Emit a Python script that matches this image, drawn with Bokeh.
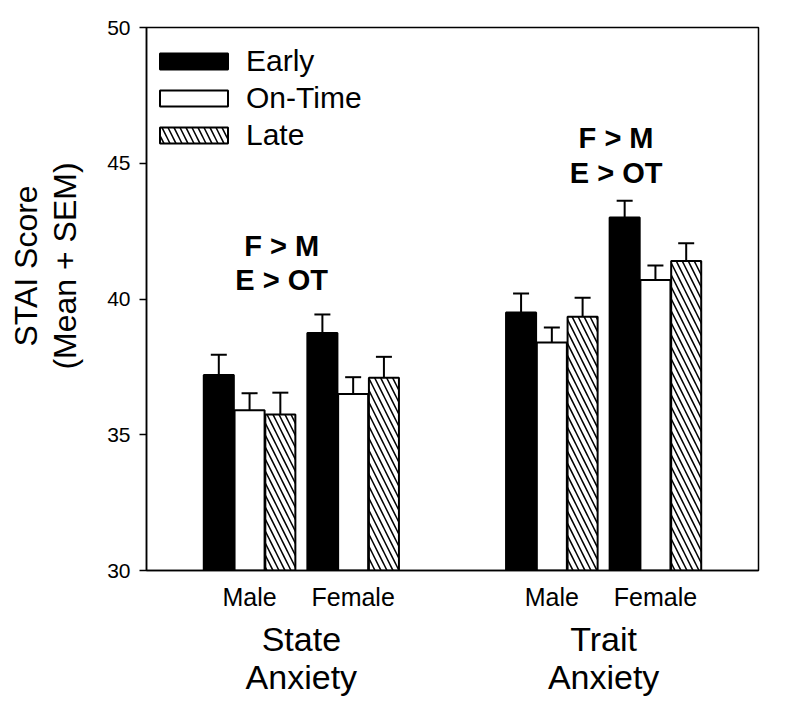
import math
from bokeh.plotting import figure
from bokeh.layouts import row
from bokeh.models import (ColumnDataSource, FactorRange, Whisker, TeeHead,
                          SingleIntervalTicker, Range1d)
from bokeh.transform import dodge
from bokeh.core.properties import value
from bokeh.embed import file_html
from bokeh.resources import INLINE

# ---------------- data ----------------
anxiety_types = ["State\nAnxiety", "Trait\nAnxiety"]
sexes = ["Male", "Female"]
series_names = ["Early", "On-Time", "Late"]

# order: State-Male, State-Female, Trait-Male, Trait-Female
early_mean = [37.2, 38.75, 39.5, 43.0]
early_sem = [0.75, 0.68, 0.70, 0.62]
ontime_mean = [35.9, 36.5, 38.4, 40.7]
ontime_sem = [0.63, 0.62, 0.55, 0.53]
late_mean = [35.75, 37.1, 39.35, 41.4]
late_sem = [0.80, 0.77, 0.70, 0.65]

y_ticks_start, y_ticks_end, y_tick_step = 30, 50, 5
y_title = "STAI Score\n(Mean + SEM)"
annotation_lines = ["F > M", "E > OT"]

FONT = "Liberation Sans"
TOTAL_W, TOTAL_H = 784, 699
TITLE_W = 104

# ---------------- y-axis title panel ----------------
pt = figure(width=TITLE_W, height=TOTAL_H, output_backend="svg",
            toolbar_location=None, x_range=Range1d(0, TITLE_W),
            y_range=Range1d(TOTAL_H, 0), min_border=0)
pt.axis.visible = False
pt.grid.visible = False
pt.outline_line_color = None
pt.text(x=[45], y=[307], text=[y_title], angle=math.pi / 2,
        text_align="center", text_baseline="middle", text_font=value(FONT),
        text_font_size="32px", text_color="black", text_line_height=1.1)

# ---------------- main figure ----------------
factors = [(a, s) for a in anxiety_types for s in sexes]
x_range = FactorRange(*factors, factor_padding=0.0, group_padding=0.918,
                      range_padding=0.495, range_padding_units="absolute")

p = figure(x_range=x_range, y_range=(y_ticks_start, y_ticks_end),
           width=TOTAL_W - TITLE_W, height=TOTAL_H, output_backend="svg",
           toolbar_location=None,
           min_border_left=144 - TITLE_W, min_border_right=26, min_border_top=27,
           min_border_bottom=129)
p.xgrid.grid_line_color = None
p.ygrid.grid_line_color = None
p.outline_line_color = "black"
p.outline_line_width = 1.5
p.background_fill_color = "white"
p.border_fill_color = "white"

src = ColumnDataSource(dict(
    x=factors,
    early=early_mean,
    early_top=[m + s for m, s in zip(early_mean, early_sem)],
    ontime=ontime_mean,
    ontime_top=[m + s for m, s in zip(ontime_mean, ontime_sem)],
    late=late_mean,
    late_top=[m + s for m, s in zip(late_mean, late_sem)],
))

STEP = 0.297
BAR_W = 0.29
offsets = [-STEP, 0.0, STEP]
cols = ["early", "ontime", "late"]

for name, col, off in zip(series_names, cols, offsets):
    kw = dict(x=dodge("x", off, range=p.x_range), top=col, bottom=y_ticks_start,
              width=BAR_W, source=src, line_color="black", line_width=2,
              legend_label=name)
    if col == "early":
        kw.update(fill_color="black")
    elif col == "ontime":
        kw.update(fill_color="white")
    else:
        kw.update(fill_color="white", hatch_pattern="\\", hatch_color="black",
                  hatch_weight=1.5, hatch_scale=12)
    p.vbar(**kw)

for col, off in zip(cols, offsets):
    w = Whisker(base=dodge("x", off, range=p.x_range), lower=col,
                upper=col + "_top", source=src, dimension="height",
                line_color="black", line_width=2,
                upper_head=TeeHead(size=16, line_width=2, line_color="black"),
                lower_head=None, level="glyph")
    p.add_layout(w)

# annotations (F > M / E > OT)
ann_src_state = ColumnDataSource(dict(
    x=[(anxiety_types[0], sexes[0])] * 2, y=[41.95, 40.70], t=annotation_lines))
ann_src_trait = ColumnDataSource(dict(
    x=[(anxiety_types[1], sexes[0])] * 2, y=[45.94, 44.65], t=annotation_lines))
for s, off in [(ann_src_state, 0.31), (ann_src_trait, 0.62)]:
    p.text(x=dodge("x", off, range=p.x_range), y="y", text="t", source=s,
           text_font=value(FONT), text_font_style="bold", text_font_size="29px",
           text_align="center", text_baseline="alphabetic", text_color="black")

# ---------------- axes ----------------
yax = p.yaxis[0]
yax.ticker = SingleIntervalTicker(interval=y_tick_step, num_minor_ticks=0)
yax.major_label_text_font = FONT
yax.major_label_text_font_size = "21px"
yax.major_label_text_color = "black"
yax.major_label_standoff = 9
yax.major_tick_out = 7
yax.major_tick_in = 0
yax.major_tick_line_width = 1.5
yax.major_tick_line_color = "black"
yax.axis_line_width = 1.5
yax.axis_line_color = "black"
yax.minor_tick_line_color = None

xax = p.xaxis[0]
xax.major_tick_line_color = None
xax.minor_tick_line_color = None
xax.axis_line_width = 1.5
xax.axis_line_color = "black"
xax.major_label_text_font = FONT
xax.major_label_text_font_size = "25px"
xax.major_label_text_color = "black"
xax.major_label_standoff = 6
xax.group_text_font = FONT
xax.group_text_font_size = "34px"
xax.group_text_line_height = 1.0
xax.group_text_color = "black"
xax.group_text_font_style = "normal"
xax.separator_line_color = None

# ---------------- legend ----------------
lg = p.legend[0]
lg.location = (5, 418)
lg.border_line_color = None
lg.background_fill_alpha = 0
lg.glyph_width = 85
lg.glyph_height = 20
lg.label_text_font = FONT
lg.label_text_font_size = "30px"
lg.label_text_color = "black"
lg.label_standoff = 10
lg.spacing = 3
lg.padding = 0
lg.margin = 0

layout = row(pt, p, spacing=0)
open("out.html", "w").write(file_html(layout, INLINE))
